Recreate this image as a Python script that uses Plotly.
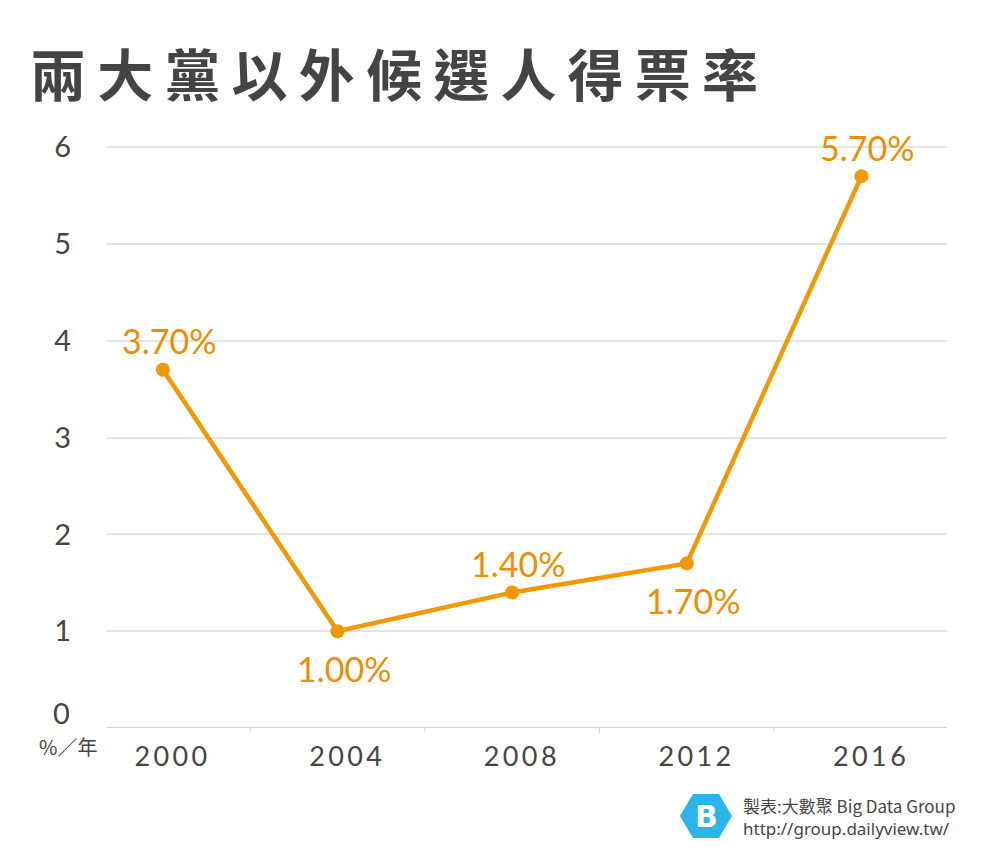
import plotly.graph_objects as go

years = ["2000", "2004", "2008", "2012", "2016"]
shares = [3.7, 1.0, 1.4, 1.7, 5.7]
labels = ["3.70%", "1.00%", "1.40%", "1.70%", "5.70%"]
label_above = [True, False, True, False, True]
ytick_vals = [1, 2, 3, 4, 5, 6]

ORANGE = "#F39800"
TEXT = "#454545"

L, R, T, B = 107, 53, 120, 132
W, H = 1000, 860
PW, PH = W - L - R, H - T - B

def px(x):
    return (x - L) / PW

def py(y):
    return (H - B - y) / PH

xs = list(range(len(years)))

fig = go.Figure()
fig.add_trace(go.Scatter(
    x=xs, y=shares, mode="lines+markers",
    line=dict(color=ORANGE, width=4.5),
    marker=dict(color=ORANGE, size=14),
    cliponaxis=False, hoverinfo="skip",
))

for x, y, t, up in zip(xs, shares, labels, label_above):
    fig.add_annotation(x=x, y=y, text=t, showarrow=False,
                       xanchor="center", yanchor="middle",
                       xshift=6, yshift=29 if up else -37,
                       font=dict(family="Lato", size=34, color="#F08C00"))

fig.update_layout(
    width=W, height=H,
    margin=dict(l=L, r=R, t=T, b=B),
    paper_bgcolor="white", plot_bgcolor="white",
    showlegend=False,
    xaxis=dict(
        range=[-0.32, 4.49], tickvals=xs, ticktext=["\u2009".join(y) for y in years],
        showgrid=False, zeroline=False, showline=False,
        ticks="", ticklabelstandoff=10, ticklabelshift=8,
        tickfont=dict(family="Lato", size=27, color=TEXT),
        fixedrange=True,
    ),
    yaxis=dict(
        range=[0, 6.28], tickvals=ytick_vals, ticktext=[str(v) for v in ytick_vals],
        showgrid=True, gridcolor="#E3E5EA", gridwidth=2, zeroline=False,
        showline=False, ticks="", ticklabelstandoff=35,
        tickfont=dict(family="Lato", size=29, color=TEXT),
        fixedrange=True,
    ),
)

# baseline at 0
fig.add_shape(type="line", xref="paper", yref="y", x0=0, x1=1, y0=0, y1=0,
              line=dict(color="#C9D2E3", width=2))
# small separator ticks between categories
for b in [0.5, 1.5, 2.5, 3.5]:
    fig.add_shape(type="line", xref="x", yref="paper", x0=b, x1=b, y0=0, y1=-0.008,
                  line=dict(color="#C9D2E3", width=1))

# "0" label and unit
fig.add_annotation(xref="paper", yref="paper", x=px(72), y=py(712), text="0",
                   showarrow=False, xanchor="right", yanchor="middle",
                   font=dict(family="Lato", size=29, color=TEXT))
fig.add_annotation(xref="paper", yref="paper", x=px(68), y=py(746), text="%／年",
                   showarrow=False, xanchor="center", yanchor="middle",
                   font=dict(family="Noto Sans CJK TC", size=20, color=TEXT))

# title
fig.add_annotation(xref="paper", yref="paper", x=px(28), y=py(72),
                   text="\u2009".join("兩大黨以外候選人得票率"),
                   showarrow=False, xanchor="left", yanchor="middle",
                   font=dict(family="Noto Sans CJK TC", size=56, color="#444444", weight="bold"))

# logo hexagon
cx, cy, rw, rh = 706, 816, 26, 22
hexpath = "M {} {} L {} {} L {} {} L {} {} L {} {} L {} {} Z".format(
    px(cx - rw), py(cy), px(cx - rw / 2), py(cy - rh), px(cx + rw / 2), py(cy - rh),
    px(cx + rw), py(cy), px(cx + rw / 2), py(cy + rh), px(cx - rw / 2), py(cy + rh))
fig.add_shape(type="path", xref="paper", yref="paper", path=hexpath,
              fillcolor="#2BB5EA", line=dict(width=0))
fig.add_annotation(xref="paper", yref="paper", x=px(cx), y=py(cy), text="<b>B</b>",
                   showarrow=False, xanchor="center", yanchor="middle",
                   font=dict(family="DejaVu Sans", size=30, color="white"))
fig.add_annotation(xref="paper", yref="paper", x=px(741), y=py(805),
                   text="製表:大數聚 Big Data Group", showarrow=False,
                   xanchor="left", yanchor="middle",
                   font=dict(family="Noto Sans CJK TC", size=17, color=TEXT))
fig.add_annotation(xref="paper", yref="paper", x=px(741), y=py(828),
                   text="http://group.dailyview.tw/", showarrow=False,
                   xanchor="left", yanchor="middle",
                   font=dict(family="Noto Sans", size=17, color=TEXT))

fig.write_html("out.html")
